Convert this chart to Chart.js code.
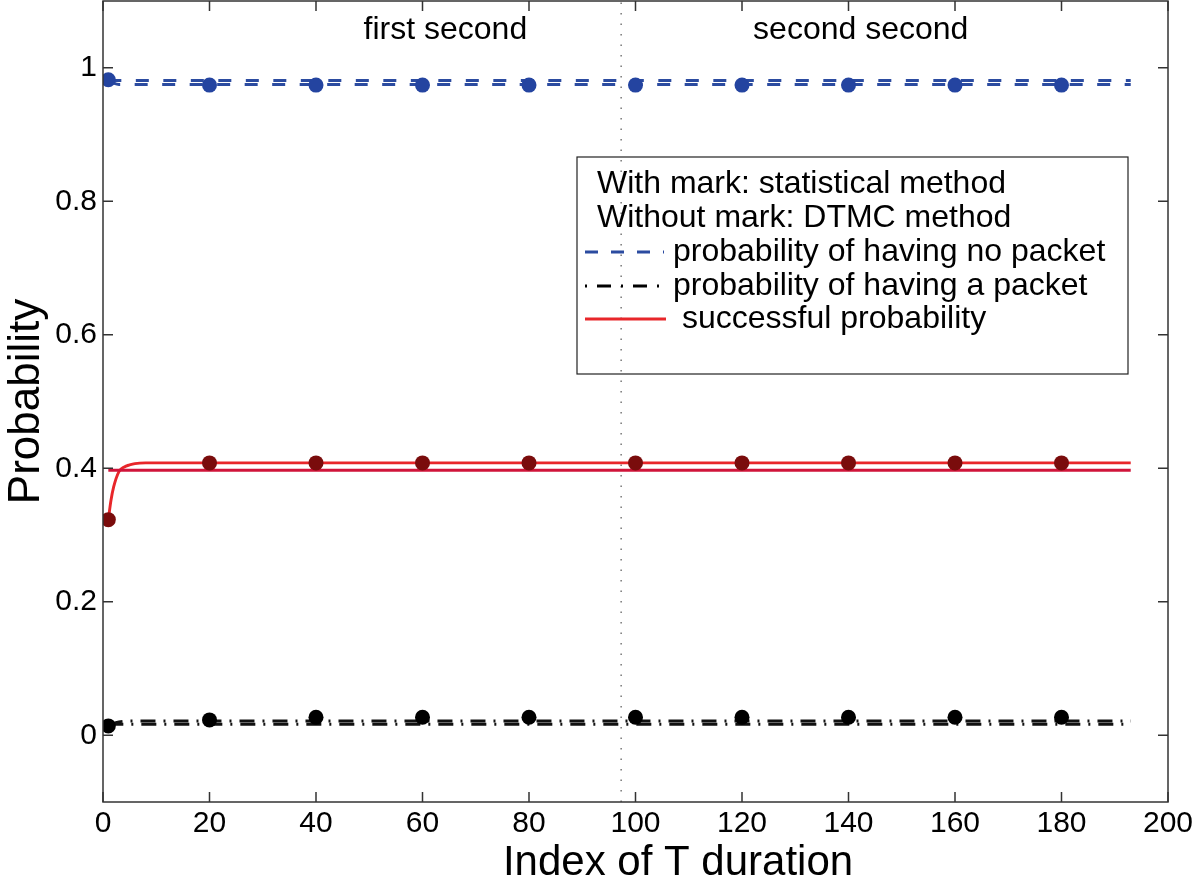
<!DOCTYPE html>
<html>
<head>
<meta charset="utf-8">
<script src="https://cdn.jsdelivr.net/npm/chart.js@4.4.0/dist/chart.umd.min.js"></script>
<style>
  html, body { margin: 0; padding: 0; background: #fff; }
  #wrap { width: 1200px; height: 893px; }
</style>
</head>
<body>
<div id="wrap"><canvas id="myChart" width="1200" height="893"></canvas></div>
<script>
// statistical method (marked samples)
const markX = [1, 20, 40, 60, 80, 100, 120, 140, 160, 180];
const noPacketMarks = [0.982, 0.974, 0.974, 0.974, 0.974, 0.974, 0.974, 0.974, 0.974, 0.974];
const successMarks = [0.323, 0.408, 0.408, 0.408, 0.408, 0.408, 0.408, 0.408, 0.408, 0.408];
const packetMarks = [0.014, 0.023, 0.027, 0.027, 0.027, 0.027, 0.027, 0.027, 0.027, 0.027];

// DTMC method (no marks) - transient curves
const curveX = [1, 1.5, 2, 3, 4, 5, 6, 8, 193];
const noPacketCurve = [0.982, 0.979, 0.977, 0.975, 0.975, 0.975, 0.975, 0.975, 0.975];
const successCurve = [0.323, 0.352, 0.372, 0.395, 0.402, 0.405, 0.407, 0.408, 0.408];
const packetCurve = [0.014, 0.016, 0.018, 0.020, 0.021, 0.0214, 0.0214, 0.0214, 0.0214];

// DTMC method - steady lines
const flatX = [1, 193];
const noPacketFlat = [0.981, 0.981];
const successFlat = [0.397, 0.397];
const packetFlat = [0.0165, 0.0165];

// one second boundary
const boundaryX = 97.3;

const xTicks = [0, 20, 40, 60, 80, 100, 120, 140, 160, 180, 200];
const yTicks = [0, 0.2, 0.4, 0.6, 0.8, 1];
const yTickLabels = ['0', '0.2', '0.4', '0.6', '0.8', '1'];

const legendRows = [
  'With mark: statistical method',
  'Without mark: DTMC method',
  'probability of having no packet',
  'probability of having a packet',
  'successful probability'
];

const BLUE = '#2b4ba0';
const RED = '#e8262a';
const RED2 = '#d0143a';
const DARKRED = '#7a0c0c';
const FONT = '"Liberation Sans", Arial, sans-serif';
const PLOT_TOP = 1;

function pts(xs, ys) {
  return xs.map((x, i) => ({x: x, y: ys[i]}));
}

function lineSet(xs, ys, color, dash) {
  return {
    data: pts(xs, ys),
    showLine: true,
    borderColor: color,
    borderWidth: 2.9,
    borderDash: dash,
    pointRadius: 0,
    fill: false,
    cubicInterpolationMode: 'monotone',
    order: 2
  };
}

function markSet(ys, color) {
  return {
    data: pts(markX, ys),
    showLine: false,
    pointRadius: 7.5,
    pointBorderWidth: 0,
    pointBackgroundColor: color,
    borderColor: color,
    order: 0
  };
}

const blueDash = [13, 14.5];
const blackDash = [15, 8, 2, 8];

// box + inward ticks like matlab
const framePlugin = {
  id: 'frame',
  afterLayout(chart) {
    // pull the plot top up to the canvas edge (chart.js keeps room for the top tick label)
    const a = chart.chartArea;
    const s = chart.scales.y;
    a.top = PLOT_TOP;
    a.height = a.bottom - a.top;
    s.top = PLOT_TOP;
    s.height = s.bottom - s.top;
    s.configure();
  },
  afterDatasetsDraw(chart) {
    const ctx = chart.ctx;
    const a = chart.chartArea;
    const sx = chart.scales.x, sy = chart.scales.y;
    ctx.save();
    ctx.strokeStyle = '#333';
    ctx.lineWidth = 1.5;
    ctx.strokeRect(a.left, a.top, a.right - a.left, a.bottom - a.top);
    ctx.beginPath();
    xTicks.forEach(v => {
      const px = sx.getPixelForValue(v);
      ctx.moveTo(px, a.bottom); ctx.lineTo(px, a.bottom - 10);
      ctx.moveTo(px, a.top); ctx.lineTo(px, a.top + 10);
    });
    yTicks.forEach(v => {
      const py = sy.getPixelForValue(v);
      ctx.moveTo(a.left, py); ctx.lineTo(a.left + 10, py);
      ctx.moveTo(a.right, py); ctx.lineTo(a.right - 10, py);
    });
    ctx.stroke();

    // period labels
    ctx.fillStyle = '#000';
    ctx.font = '32px ' + FONT;
    ctx.textAlign = 'center';
    ctx.textBaseline = 'middle';
    ctx.fillText('first second', sx.getPixelForValue(64.3), sy.getPixelForValue(1.056));
    ctx.fillText('second second', sx.getPixelForValue(142.3), sy.getPixelForValue(1.056));

    // x axis title
    ctx.font = '42px ' + FONT;
    ctx.fillText('Index of T duration', 678, 863);

    // legend
    const bx = 577, by = 157, bw = 551, bh = 217;
    ctx.lineWidth = 1.2;
    ctx.strokeStyle = '#222';
    ctx.strokeRect(bx, by, bw, bh);
    ctx.font = '32px ' + FONT;
    ctx.textAlign = 'left';
    const rowY = [184, 218, 252, 286, 319];
    ctx.fillText(legendRows[0], 597, rowY[0]);
    ctx.fillText(legendRows[1], 597, rowY[1]);
    ctx.fillText(legendRows[2], 673, rowY[2]);
    ctx.fillText(legendRows[3], 673, rowY[3]);
    ctx.fillText(legendRows[4], 682, rowY[4]);

    ctx.lineWidth = 3;
    ctx.strokeStyle = BLUE;
    ctx.setLineDash([13, 13]);
    ctx.beginPath(); ctx.moveTo(585, rowY[2]); ctx.lineTo(664, rowY[2]); ctx.stroke();
    ctx.strokeStyle = '#000';
    ctx.setLineDash([2, 10, 14, 10]);
    ctx.beginPath(); ctx.moveTo(585, rowY[3]); ctx.lineTo(664, rowY[3]); ctx.stroke();
    ctx.strokeStyle = RED;
    ctx.setLineDash([]);
    ctx.beginPath(); ctx.moveTo(585, rowY[4]); ctx.lineTo(666, rowY[4]); ctx.stroke();
    ctx.restore();
  }
};

const ctx = document.getElementById('myChart');

new Chart(ctx, {
  type: 'scatter',
  data: {
    datasets: [
      {
        data: [{x: boundaryX, y: -0.1}, {x: boundaryX, y: 1.1}],
        showLine: true,
        borderColor: '#555',
        borderWidth: 1.2,
        borderDash: [1.5, 9],
        pointRadius: 0,
        order: 3
      },
      lineSet(flatX, noPacketFlat, BLUE, blueDash),
      lineSet(curveX, noPacketCurve, BLUE, blueDash),
      lineSet(flatX, successFlat, RED2, []),
      lineSet(curveX, successCurve, RED, []),
      lineSet(flatX, packetFlat, '#111', blackDash),
      lineSet(curveX, packetCurve, '#111', blackDash),
      markSet(noPacketMarks, '#2444a0'),
      markSet(successMarks, DARKRED),
      markSet(packetMarks, '#000')
    ]
  },
  options: {
    responsive: false,
    animation: false,
    devicePixelRatio: 1,
    layout: { padding: { left: 0, top: 2, right: 32, bottom: 0 } },
    plugins: {
      legend: { display: false },
      tooltip: { enabled: false }
    },
    scales: {
      x: {
        type: 'linear',
        min: 0,
        max: 200,
        grid: { display: false, drawTicks: false, tickLength: 0 },
        border: { display: false },
        afterBuildTicks: s => { s.ticks = xTicks.map(v => ({value: v})); },
        afterFit: s => { s.height = 91; s.paddingLeft = 0; s.paddingRight = 0; },
        ticks: {
          autoSkip: false,
          maxRotation: 0,
          padding: 4,
          color: '#000',
          font: { family: FONT, size: 30 }
        }
      },
      y: {
        min: -0.1,
        max: 1.1,
        grid: { display: false, drawTicks: false, tickLength: 0 },
        border: { display: false },
        afterBuildTicks: s => { s.ticks = yTicks.map(v => ({value: v})); },
        afterFit: s => { s.width = 103; s.paddingTop = 0; s.paddingBottom = 0; },
        ticks: {
          padding: 6,
          color: '#000',
          font: { family: FONT, size: 30 },
          callback: (v) => yTickLabels[yTicks.indexOf(v)]
        },
        title: {
          display: true,
          text: 'Probability',
          color: '#000',
          font: { family: FONT, size: 44 },
          padding: 0
        }
      }
    }
  },
  plugins: [framePlugin]
});
</script>
</body>
</html>
